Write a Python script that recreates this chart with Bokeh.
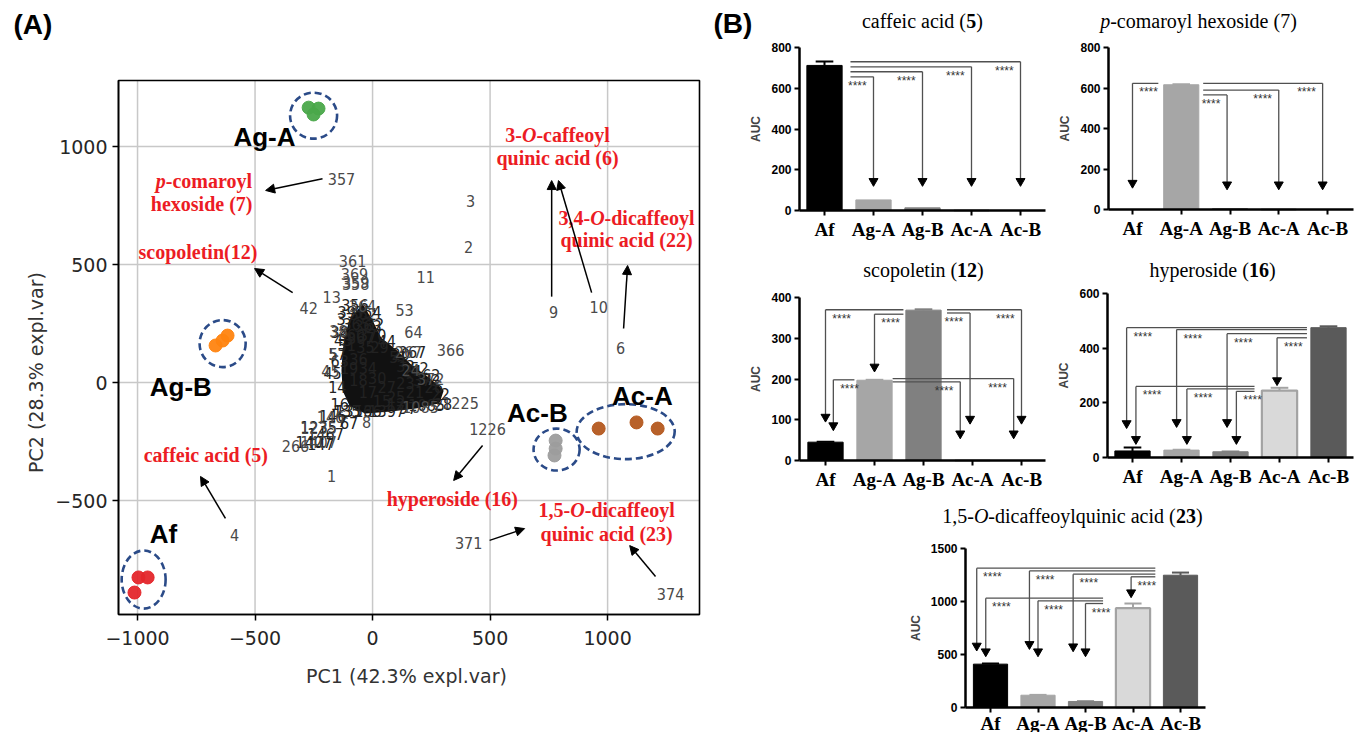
import math
from bokeh.plotting import figure
from bokeh.models import Range1d, FixedTicker, Arrow, NormalHead, Spacer
from bokeh.layouts import row, column
from bokeh.core.properties import value
from bokeh.embed import file_html
from bokeh.resources import INLINE

# ======================= DATA : panel A (PCA biplot) =======================
pc1_title = "PC1 (42.3% expl.var)"
pc2_title = "PC2 (28.3% expl.var)"
x_ticks = [-1000, -500, 0, 500, 1000]
y_ticks = [-500, 0, 500, 1000]
pc1_lim = (-1081, 1391)
pc2_lim = (-983, 1280)

score_group = ["Af", "Af", "Af", "Ag-A", "Ag-A", "Ag-A", "Ag-B", "Ag-B", "Ag-B",
               "Ac-A", "Ac-A", "Ac-A", "Ac-B", "Ac-B", "Ac-B"]
score_pc1 = [-996, -957, -1013, -272, -230, -251, -668, -638, -617,
             962, 1123, 1213, 779, 779, 774]
score_pc2 = [-826, -826, -890, 1165, 1161, 1136, 157, 178, 199,
             -195, -169, -195, -246, -280, -309]

grp_name = ["Ag-A", "Ag-B", "Af", "Ac-B", "Ac-A"]
grp_ell_x = [-251, -638, -974, 783, 1077]
grp_ell_y = [1131, 165, -835, -284, -208]
grp_ell_w = [200, 196, 187, 196, 417]
grp_ell_h = [195, 199, 246, 178, 233]
grp_lab_x = [-328, -948, -948, 572, 1019]
grp_lab_y = [1042, -17, -640, -131, -59]
grp_lab_align = ["right", "left", "left", "left", "left"]

load_id = ["357", "3", "2", "11", "361", "369", "359", "358", "13", "42", "364", "53",
           "64", "366", "267", "24", "372", "1225", "1085", "1226", "1", "8", "146",
           "1235", "266", "1407", "4", "9", "10", "6", "371", "374", "38", "5", "45"]
load_pc1 = [-132, 417, 409, 226, -85, -77, -72, -72, -174, -272, -43, 136,
            174, 332, 153, 162, 247, 374, 204, 489, -174, -26, -179,
            -230, -328, -230, -587, 770, 962, 1055, 409, 1268, -145, -166, -179]
load_pc2 = [864, 771, 576, 449, 513, 458, 428, 419, 364, 318, 326, 309,
            216, 140, 131, 55, 17, -85, -102, -199, -398, -169, -144,
            -191, -267, -250, -648, 297, 322, 148, -682, -898, 220, 119, 47]

blob_id = ["362", "365", "363", "360", "367", "370", "38", "31", "29", "35", "57", "45",
           "14", "16", "135", "20", "267", "33", "24", "372", "26", "22", "28", "1085",
           "97", "1397", "136", "1356", "146", "7", "67", "1235", "1467", "1407", "147",
           "36", "34", "30", "27", "25", "23", "21", "19", "18", "17", "15", "12", "39",
           "356", "354", "32", "37", "43", "44", "51", "52", "62", "63"]
blob_pc1 = [-40, -70, -20, -90, -50, 0, -140, -110, 30, -30, -150, -170,
            -150, -140, -110, 120, 170, 140, 170, 230, 260, 290, 300, 230,
            150, 60, -20, -80, -170, -130, -100, -230, -200, -250, -220,
            -60, -20, 20, 60, 100, 140, 180, -100, -60, -20, 40, 100, -110,
            -75, -20, 10, -115, -125, 60, 110, 200, 250, -140]
blob_pc2 = [290, 250, 240, 200, 190, 200, 215, 160, 150, 150, 120, 40,
            -20, -90, -120, 120, 130, 70, 50, 10, -20, -50, -90, -95,
            -110, -120, -120, -120, -140, -165, -170, -190, -220, -250, -260,
            100, 60, 20, -20, -60, 0, -40, 60, 10, -40, -80, -90, 300,
            330, 300, 250, 270, 180, 175, 110, 60, 30, 90]
blob_outline_pc1 = [-94, -43, 0, 34, 98, 162, 238, 298, 281, 183, 77, -30, -94,
                    -123, -128, -123, -111]
blob_outline_pc2 = [263, 326, 254, 186, 136, 72, 17, -34, -85, -106, -119, -127,
                    -97, -34, 51, 136, 208]

compound_text = [
    ([("p", "bold italic"), ("-comaroyl", "bold")], -511, 852, "right"),
    ([("hexoside (7)", "bold")], -511, 758, "right"),
    ([("3-", "bold"), ("O", "bold italic"), ("-caffeoyl", "bold")], 787, 1047, "center"),
    ([("quinic acid (6)", "bold")], 787, 953, "center"),
    ([("3,4-", "bold"), ("O", "bold italic"), ("-dicaffeoyl", "bold")], 1370, 699, "right"),
    ([("quinic acid (22)", "bold")], 1362, 606, "right"),
    ([("scopoletin(12)", "bold")], -996, 555, "left"),
    ([("caffeic acid (5)", "bold")], -974, -309, "left"),
    ([("hyperoside (16)", "bold")], 60, -492, "left"),
    ([("1,5-", "bold"), ("O", "bold italic"), ("-dicaffeoyl", "bold")], 996, -542, "center"),
    ([("quinic acid (23)", "bold")], 996, -640, "center"),
]
arrow_x0 = [-213, 762, 932, 1068, -340, -626, 468, 498, 1204]
arrow_y0 = [864, 364, 381, 229, 381, -576, -267, -669, -822]
arrow_x1 = [-455, 762, 791, 1085, -502, -732, 345, 647, 1094]
arrow_y1 = [814, 856, 856, 496, 483, -398, -415, -619, -691]

# ======================= DATA : panel B (bar charts) =======================
cats = ["Af", "Ag-A", "Ag-B", "Ac-A", "Ac-B"]

caffeic_auc = [712, 52, 13, 0, 0]
caffeic_err = [19, 0, 0, 0, 0]
caffeic_from = [1, 1, 1, 1]
caffeic_to = [2, 3, 4, 5]
caffeic_level = [656, 681, 705, 730]
caffeic_tip = [144, 144, 144, 144]

coumaroyl_auc = [0, 616, 4, 0, 0]
coumaroyl_err = [0, 2, 0, 0, 0]
coumaroyl_from = [2, 2, 2, 2]
coumaroyl_to = [1, 3, 4, 5]
coumaroyl_level = [623, 566, 590, 623]
coumaroyl_tip = [131, 123, 123, 123]

scopoletin_auc = [45, 197, 369, 0, 0]
scopoletin_err = [1, 1, 2, 0, 0]
scopoletin_from = [3, 3, 3, 3, 2, 2, 2]
scopoletin_to = [1, 2, 4, 5, 1, 4, 5]
scopoletin_level = [370, 359, 362, 370, 198, 193, 201]
scopoletin_tip = [107, 230, 102, 102, 86, 66, 66]

hyperoside_auc = [24, 27, 21, 245, 475]
hyperoside_err = [13, 1, 1, 10, 5]
hyperoside_from = [5, 5, 5, 5, 4, 4, 4]
hyperoside_to = [1, 2, 3, 4, 1, 2, 3]
hyperoside_level = [475, 468, 453, 438, 260, 251, 242]
hyperoside_tip = [125, 129, 129, 282, 67, 67, 67]

dicq_auc = [409, 116, 57, 937, 1248]
dicq_err = [5, 3, 2, 44, 25]
dicq_from = [5, 5, 5, 5, 4, 4, 4]
dicq_to = [1, 2, 3, 4, 1, 2, 3]
dicq_level = [1314, 1289, 1258, 1233, 1031, 1006, 981]
dicq_tip = [582, 597, 575, 1085, 528, 528, 528]

sig_label = "****"

# ======================= styles =======================
COND = "'DejaVu Sans Condensed', 'DejaVu Sans'"
RED = "#ec1c24"
NAVY = "#2b4b88"
grp_color = {"Af": "#e4262b", "Ag-A": "#4aa84a", "Ag-B": "#ff8410",
             "Ac-A": "#b4581f", "Ac-B": "#9d9d9d"}
bar_fill = ["#000000", "#a6a6a6", "#808080", "#d9d9d9", "#5a5a5a"]
bar_line = ["#000000", "#a6a6a6", "#808080", "#a3a3a3", "#5a5a5a"]
bar_lw = [1, 1, 1, 2.2, 1]

_chars = " ()-,." + "0123456789" + "abcdefghilmnopqrstuvxyz" + "OAB"
_reg = [250, 333, 333, 333, 250, 250] + [500] * 10 + \
       [444, 500, 444, 500, 444, 333, 500, 500, 278, 278, 778, 500, 500, 500, 500, 333,
        389, 278, 500, 500, 500, 500, 444] + [722, 722, 667]
_bold = [250, 333, 333, 333, 250, 250] + [500] * 10 + \
        [500, 556, 444, 556, 444, 333, 500, 556, 278, 278, 833, 556, 500, 556, 556, 444,
         389, 333, 556, 500, 500, 500, 444] + [778, 722, 667]
TR = dict(zip(_chars, _reg))
TB = dict(zip(_chars, _bold))


def tw(s, style, size):
    tab = TB if style == "bold" else TR
    return sum(tab.get(c, 500) for c in s) * size / 1000.0


def rich(fig, x, y, parts, size, align, color, font="Liberation Serif"):
    ws = [tw(t, st, size) for t, st in parts]
    total = sum(ws)
    off = {"left": 0.0, "center": -total / 2.0, "right": -total}[align]
    for (t, st), w in zip(parts, ws):
        fig.text(x=[x], y=[y], text=[t], x_offset=off, text_align="left",
                 text_baseline="middle", text_font=value(font),
                 text_font_size=value(f"{size}px"), text_font_style=st, text_color=color)
        off += w


def canvas_fig(w, h, xr, yr):
    p = figure(width=w, height=h, x_range=Range1d(*xr), y_range=Range1d(*yr), title=None,
               min_border=0, min_border_left=0, min_border_right=0, min_border_top=0,
               min_border_bottom=0, output_backend="svg", toolbar_location=None)
    p.outline_line_color = None
    p.grid.visible = False
    return p


# ======================= Panel A =======================
A_W, A_H = 704, 732
BOX_L, BOX_R, BOX_T, BOX_B = 118, 699, 80, 614      # plot box in page pixels
ux = (pc1_lim[1] - pc1_lim[0]) / (BOX_R - BOX_L)
uy = (pc2_lim[1] - pc2_lim[0]) / (BOX_B - BOX_T)


def ax_(px):
    return pc1_lim[0] + (px - BOX_L) * ux


def ay_(py):
    return pc2_lim[1] - (py - BOX_T) * uy


pA = canvas_fig(A_W, A_H, (ax_(0), ax_(A_W)), (ay_(A_H), ay_(0)))

pA.segment(x0=x_ticks, y0=[pc2_lim[0]] * len(x_ticks), x1=x_ticks,
           y1=[pc2_lim[1]] * len(x_ticks), line_color="#c8c8c8", line_width=1.5)
pA.segment(x0=[pc1_lim[0]] * len(y_ticks), y0=y_ticks, x1=[pc1_lim[1]] * len(y_ticks),
           y1=y_ticks, line_color="#c8c8c8", line_width=1.5)
pA.quad(left=[pc1_lim[0]], right=[pc1_lim[1]], bottom=[pc2_lim[0]], top=[pc2_lim[1]],
        fill_color=None, line_color="black", line_width=1.6)

for ax in (pA.xaxis[0], pA.yaxis[0]):
    ax.axis_line_color = "black"
    ax.axis_line_width = 1.6
    ax.major_tick_out = 6
    ax.major_tick_in = 0
    ax.major_tick_line_width = 1.5
    ax.minor_tick_line_color = None
    ax.major_label_text_font = "DejaVu Sans"
    ax.major_label_text_font_size = "19px"
    ax.major_label_text_color = "#262626"
pA.xaxis.fixed_location = pc2_lim[0]
pA.xaxis.bounds = pc1_lim
pA.yaxis.fixed_location = pc1_lim[0]
pA.yaxis.bounds = pc2_lim
pA.xaxis.ticker = FixedTicker(ticks=x_ticks)
pA.yaxis.ticker = FixedTicker(ticks=y_ticks)
pA.xaxis.major_label_overrides = {t: str(t).replace("-", "\u2212") for t in x_ticks}
pA.yaxis.major_label_overrides = {t: str(t).replace("-", "\u2212") for t in y_ticks}
pA.xaxis.major_label_standoff = 10
pA.yaxis.major_label_standoff = 5

pA.text(x=[ax_(406)], y=[ay_(675)], text=[pc1_title], text_align="center",
        text_baseline="middle", text_font=value("DejaVu Sans"),
        text_font_size=value("19px"), text_color="#333333")
pA.text(x=[ax_(35)], y=[ay_(372)], text=[pc2_title], angle=math.pi / 2,
        text_align="center", text_baseline="middle", text_font=value("DejaVu Sans"),
        text_font_size=value("19px"), text_color="#333333")
pA.text(x=[ax_(13)], y=[ay_(24)], text=["(A)"], text_align="left", text_baseline="middle",
        text_font=value("Liberation Sans"), text_font_size=value("28px"),
        text_font_style="bold", text_color="black")

pA.patch(blob_outline_pc1, blob_outline_pc2, fill_color="#111111", line_color="#111111",
         line_width=2)
pA.text(x=blob_pc1, y=blob_pc2, text=blob_id, text_align="center", text_baseline="middle",
        text_font=value(COND), text_font_size=value("16px"), text_color="#222222")
pA.text(x=load_pc1, y=load_pc2, text=load_id, text_align="center", text_baseline="middle",
        text_font=value(COND), text_font_size=value("16px"), text_color="#4a4a4a")

pA.scatter(x=score_pc1, y=score_pc2, size=13, marker="circle",
           color=[grp_color[g] for g in score_group], alpha=0.95)
pA.ellipse(x=grp_ell_x, y=grp_ell_y, width=grp_ell_w, height=grp_ell_h,
           fill_color=None, line_color=NAVY, line_width=2.6, line_dash="7 4")
for n, gx, gy, al in zip(grp_name, grp_lab_x, grp_lab_y, grp_lab_align):
    pA.text(x=[gx], y=[gy], text=[n], text_align=al, text_baseline="middle",
            text_font=value("Liberation Sans"), text_font_size=value("26px"),
            text_font_style="bold", text_color="black")

for parts, cx, cy, al in compound_text:
    rich(pA, cx, cy, parts, 20, al, RED)

for x0, y0, x1, y1 in zip(arrow_x0, arrow_y0, arrow_x1, arrow_y1):
    pA.add_layout(Arrow(end=NormalHead(size=9, fill_color="black", line_color="black",
                                       line_width=1),
                        x_start=x0, y_start=y0, x_end=x1, y_end=y1,
                        line_color="black", line_width=1.5))


# ======================= Panel B =======================
def bar_panel(geo, vals, errs, frm, to, levels, tips, start_dx, drop_dx, title_parts,
              letter=None):
    (fig_l, fig_t, fig_w, fig_h, axis_px, right_px, cat1_px, spacing, zero_py,
     tick_max, tick_py, step, title_cx, title_cy, lab_standoff) = geo
    upp = tick_max / (zero_py - tick_py)

    def fx(px):
        return 1 + (px - cat1_px) / spacing

    def fy(py):
        return (zero_py - py) * upp

    p = canvas_fig(fig_w, fig_h, (fx(fig_l), fx(fig_l + fig_w)), (fy(fig_t + fig_h), fy(fig_t)))
    for ax in (p.xaxis[0], p.yaxis[0]):
        ax.axis_line_width = 2.5
        ax.axis_line_color = "black"
        ax.major_tick_line_width = 2
        ax.major_tick_out = 5
        ax.major_tick_in = 0
        ax.minor_tick_line_color = None
    p.xaxis.fixed_location = 0
    p.xaxis.bounds = (fx(axis_px), fx(right_px))
    p.xaxis.ticker = FixedTicker(ticks=[1, 2, 3, 4, 5])
    p.xaxis.major_label_overrides = {i + 1: c for i, c in enumerate(cats)}
    p.xaxis.major_label_text_font = "Liberation Serif"
    p.xaxis.major_label_text_font_style = "bold"
    p.xaxis.major_label_text_font_size = "19px"
    p.xaxis.major_label_text_color = "black"
    p.xaxis.major_label_standoff = lab_standoff
    p.yaxis.fixed_location = fx(axis_px)
    p.yaxis.bounds = (0, tick_max)
    p.yaxis.ticker = FixedTicker(ticks=list(range(0, tick_max + 1, step)))
    p.yaxis.major_label_text_font = "Liberation Sans"
    p.yaxis.major_label_text_font_style = "bold"
    p.yaxis.major_label_text_font_size = "12px"
    p.yaxis.major_label_text_color = "black"
    p.yaxis.major_label_standoff = 3
    p.yaxis.axis_label = "AUC"
    p.yaxis.axis_label_text_font = "Liberation Sans"
    p.yaxis.axis_label_text_font_style = "bold"
    p.yaxis.axis_label_text_font_size = "12px"
    p.yaxis.axis_label_standoff = 5

    xs = [1, 2, 3, 4, 5]
    p.vbar(x=xs, top=vals, width=0.72, fill_color=bar_fill, line_color=bar_line,
           line_width=bar_lw)
    ex, ey0, ey1, cx0, cx1, cy, ec = [], [], [], [], [], [], []
    for i, (v, e) in enumerate(zip(vals, errs)):
        if e > 0:
            ex.append(xs[i]); ey0.append(v); ey1.append(v + e)
            cx0.append(xs[i] - 0.18); cx1.append(xs[i] + 0.18); cy.append(v + e)
            ec.append(bar_line[i])
    if ex:
        p.segment(x0=ex, y0=ey0, x1=ex, y1=ey1, line_color=ec, line_width=2)
        p.segment(x0=cx0, y0=cy, x1=cx1, y1=cy, line_color=ec, line_width=2)

    sx0, sy0, sx1, sy1, tx, ty, stx, sty = [], [], [], [], [], [], [], []
    for f, t, lv, tp, sdx, ddx in zip(frm, to, levels, tips, start_dx, drop_dx):
        s = f + sdx
        d = t + ddx
        sx0 += [s, d]; sy0 += [lv, lv]; sx1 += [d, d]; sy1 += [lv, tp]
        tx.append(d); ty.append(tp)
        side = 1 if f > t else -1
        stx.append(d + side * 0.33); sty.append(lv - 2 * upp)
    p.segment(x0=sx0, y0=sy0, x1=sx1, y1=sy1, line_color="#505050", line_width=1.3)
    p.scatter(x=tx, y=ty, marker="inverted_triangle", size=9, color="black")
    p.text(x=stx, y=sty, text=[sig_label] * len(stx), text_align="center",
           text_baseline="top", text_font=value("Liberation Sans"),
           text_font_size=value("12px"), text_color="#333333")

    rich(p, fx(title_cx), fy(title_cy), title_parts, 20, "center", "black")
    if letter is not None:
        p.text(x=[fx(letter[1])], y=[fy(letter[2])], text=[letter[0]], text_align="left",
               text_baseline="middle", text_font=value("Liberation Sans"),
               text_font_size=value("28px"), text_font_style="bold", text_color="black")
    return p


# geometry: fig left, top, width, height, y-axis x, x-axis end, first category x,
# category spacing, y of zero, top tick, y of top tick, tick step, title centre x, y,
# category label standoff  (all page pixels)
G1 = (704, 0, 352, 240, 799, 1045, 824, 49, 210, 800, 47, 200, 922, 20, 3)
G2 = (1056, 0, 308, 240, 1108, 1353, 1132, 48.75, 209, 800, 47, 200, 1198, 20, 3)
G3 = (704, 240, 352, 252, 799, 1045, 825, 49, 460, 400, 297, 100, 923, 269, 3)
G4 = (1056, 240, 308, 252, 1107, 1353, 1132, 49, 457, 600, 293, 200, 1212, 269, 3)
G5 = (880, 492, 340, 240, 965, 1205, 990, 47.5, 707, 1500, 548, 500, 1072, 515, 0)

c1 = bar_panel(G1, caffeic_auc, caffeic_err, caffeic_from, caffeic_to, caffeic_level,
               caffeic_tip, [0.53] * 4, [0, 0, 0, 0],
               [("caffeic acid (", "normal"), ("5", "bold"), (")", "normal")],
               letter=("(B)", 713, 23))
c2 = bar_panel(G2, coumaroyl_auc, coumaroyl_err, coumaroyl_from, coumaroyl_to,
               coumaroyl_level, coumaroyl_tip, [-0.47, 0.45, 0.45, 0.45],
               [0, -0.06, 0, -0.1],
               [("p", "italic"), ("-comaroyl hexoside (7)", "normal")])
c3 = bar_panel(G3, scopoletin_auc, scopoletin_err, scopoletin_from, scopoletin_to,
               scopoletin_level, scopoletin_tip,
               [-0.41, -0.41, 0.48, 0.48, -0.41, 0.37, 0.37],
               [0, 0, -0.05, 0, 0.16, -0.25, -0.16],
               [("scopoletin (", "normal"), ("12", "bold"), (")", "normal")])
c4 = bar_panel(G4, hyperoside_auc, hyperoside_err, hyperoside_from, hyperoside_to,
               hyperoside_level, hyperoside_tip, [-0.44] * 4 + [-0.51] * 3,
               [-0.12, -0.1, -0.07, -0.05, 0.07, 0.11, 0.12],
               [("hyperoside (", "normal"), ("16", "bold"), (")", "normal")])
c5 = bar_panel(G5, dicq_auc, dicq_err, dicq_from, dicq_to, dicq_level, dicq_tip,
               [-0.53] * 4 + [-0.63] * 3, [-0.29, -0.18, -0.26, -0.04, -0.1, 0, 0],
               [("1,5-", "normal"), ("O", "italic"), ("-dicaffeoylquinic acid (", "normal"),
                ("23", "bold"), (")", "normal")])

panelB = column(row(c1, c2), row(c3, c4), row(Spacer(width=176, height=240), c5))
layout = row(pA, panelB)

open("out.html", "w").write(file_html(layout, INLINE, "PCA and AUC"))
